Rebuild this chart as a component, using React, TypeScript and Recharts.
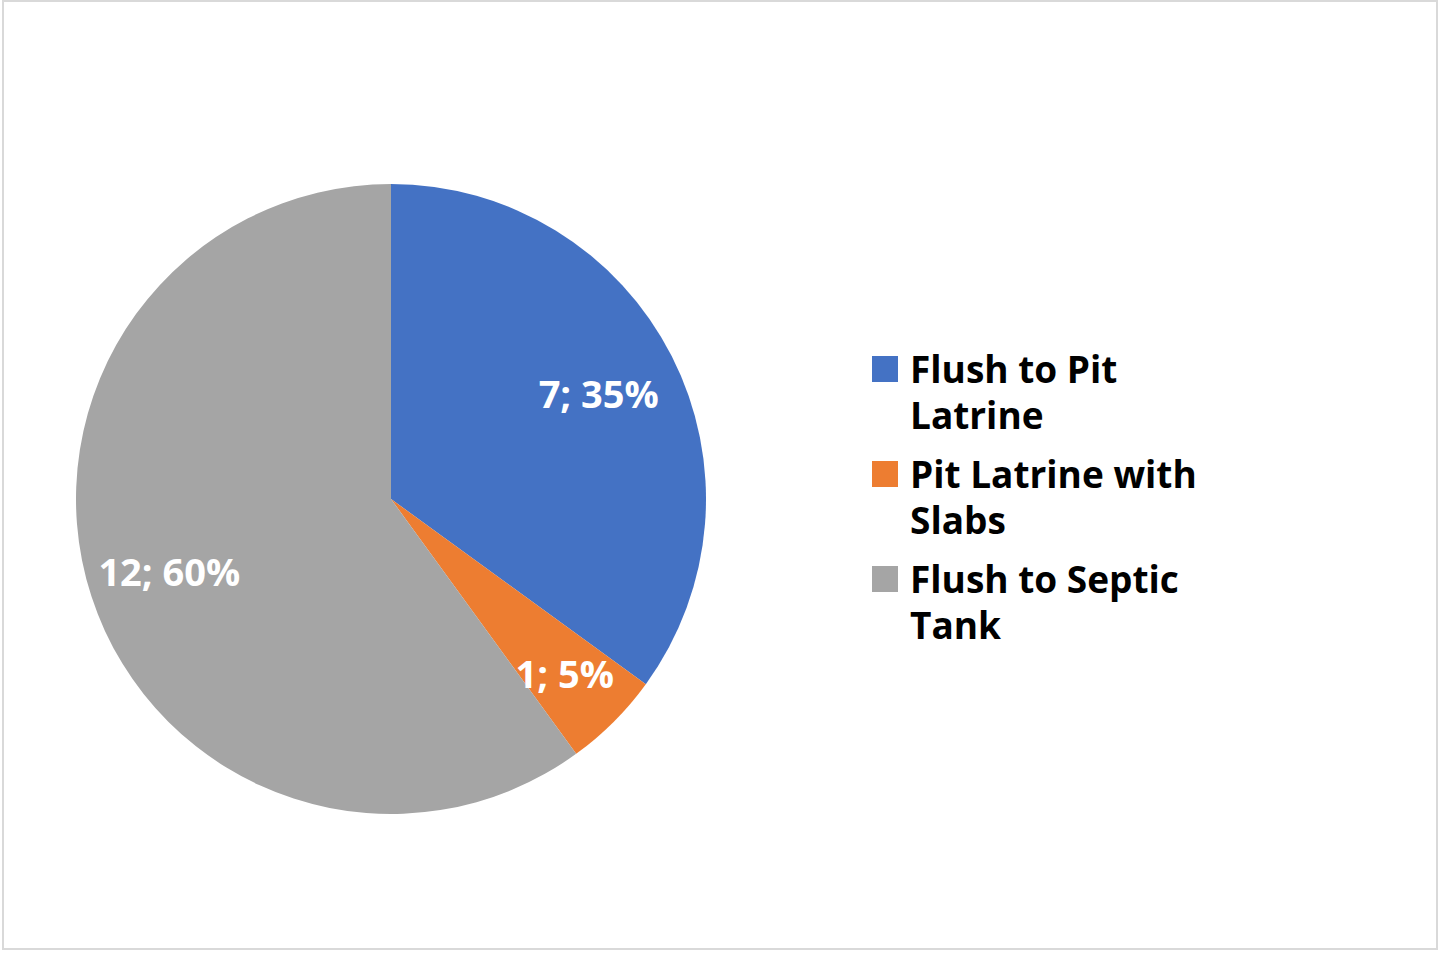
import { PieChart, Pie, Cell, Legend } from 'recharts'

const categories = ['Flush to Pit Latrine', 'Pit Latrine with Slabs', 'Flush to Septic Tank']
const counts = [7, 1, 12]
const percents = ['35%', '5%', '60%']
const colors = ['#4472C4', '#ED7D31', '#A5A5A5']

const data = categories.map((name, i) => ({ name, value: counts[i], pct: percents[i] }))

const FONT = '"Open Sans", Lato, sans-serif'
const RADIAN = Math.PI / 180

function renderLabel(props: any) {
  const { cx, cy, midAngle, outerRadius, index, percent } = props
  // small slices get their label pushed further out, like Excel's best fit
  const r = outerRadius * (percent < 0.1 ? 0.78 : 0.74)
  const x = cx + r * Math.cos(-midAngle * RADIAN)
  const y = cy + r * Math.sin(-midAngle * RADIAN)
  const d = data[index]
  return (
    <text
      x={x}
      y={y}
      fill="#fff"
      textAnchor="middle"
      dominantBaseline="central"
      style={{ fontFamily: FONT, fontWeight: 700, fontSize: 38 }}
    >
      {`${d.value}; ${d.pct}`}
    </text>
  )
}

function LegendContent() {
  return (
    <div style={{ fontFamily: FONT, fontWeight: 700, fontSize: 37, color: '#000', lineHeight: '46px' }}>
      {categories.map((c, i) => (
        <div key={c} style={{ display: 'flex', alignItems: 'flex-start', marginBottom: 13 }}>
          <span
            style={{
              width: 26,
              height: 26,
              background: colors[i],
              marginTop: 10,
              marginRight: 12,
              flexShrink: 0,
            }}
          />
          <span style={{ width: 320 }}>{c}</span>
        </div>
      ))}
    </div>
  )
}

export default function App() {
  return (
    <div
      style={{
        position: 'absolute',
        left: 2,
        top: 0,
        width: 1436,
        height: 950,
        boxSizing: 'border-box',
        border: '2px solid #d9d9d9',
        background: '#fff',
      }}
    >
      <PieChart width={1432} height={946} margin={{ top: 0, right: 0, bottom: 0, left: 0 }}>
        <Pie
          data={data}
          dataKey="value"
          nameKey="name"
          cx={387}
          cy={497}
          outerRadius={315}
          startAngle={90}
          endAngle={-270}
          stroke="none"
          label={renderLabel}
          labelLine={false}
          isAnimationActive={false}
        >
          {data.map((d, i) => (
            <Cell key={d.name} fill={colors[i]} />
          ))}
        </Pie>
        <Legend
          layout="vertical"
          verticalAlign="top"
          align="right"
          wrapperStyle={{ left: 868, top: 344, width: 370, right: 'auto' }}
          content={<LegendContent />}
        />
      </PieChart>
    </div>
  )
}
